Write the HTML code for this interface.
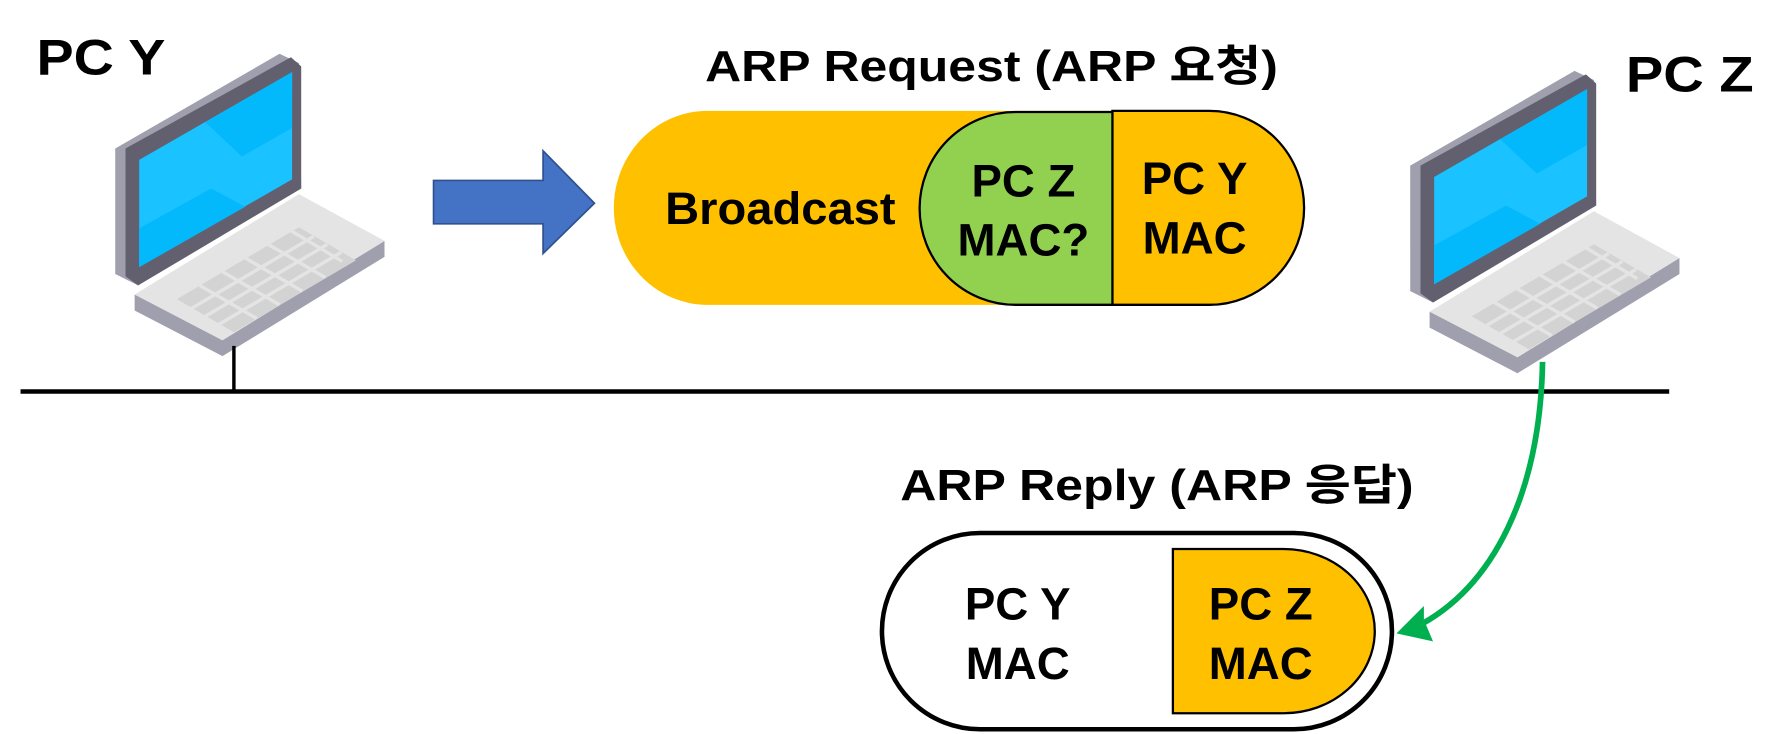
<!DOCTYPE html>
<html><head><meta charset="utf-8"><style>
html,body{margin:0;padding:0;background:#fff;}
svg{display:block;}
text{font-family:"Liberation Sans","Noto Sans CJK KR",sans-serif;font-weight:bold;fill:#000;}
</style></head><body>
<svg width="1789" height="734" viewBox="0 0 1568 643" xmlns="http://www.w3.org/2000/svg">
<defs>
<g id="laptop">
  <polygon points="101,130 245,47 262,55 264,165 121,250 101,240" fill="#a09fae"/>
  <polygon points="110,130 255,50 264,58 264,165 121,250 110,242" fill="#62606f"/>
  <polygon points="122,140 256,63 256,157 122,234" fill="#1ac3ff"/>
  <polygon points="122,200 185,165 215,181 122,234" fill="#03b8fb"/>
  <polygon points="180,107 256,63 256,112 212,137" fill="#03b8fb"/>
  <polygon points="118,258 118,272 195,312 337,225 337,211 195,298" fill="#a09fae"/>
  <polygon points="118,258 262,170 337,211 195,298" fill="#e4e4e4"/>
  <polygon points="155,262 262,199 312,228 205,291" fill="#d3d3d3"/>
  <g stroke="#e4e4e4" stroke-width="3">
    <line x1="168" y1="270" x2="275" y2="207"/>
    <line x1="180" y1="277" x2="287" y2="214"/>
    <line x1="192" y1="284" x2="299" y2="221"/>
    <line x1="175" y1="250" x2="225" y2="279"/>
    <line x1="195" y1="238" x2="245" y2="267"/>
    <line x1="215" y1="226" x2="265" y2="255"/>
    <line x1="235" y1="214" x2="285" y2="243"/>
    <line x1="255" y1="202" x2="300" y2="229"/>
  </g>
</g>
</defs>

<text x="32" y="65" font-size="44" textLength="113" lengthAdjust="spacingAndGlyphs">PC Y</text>
<text x="1425" y="80" font-size="44" textLength="112" lengthAdjust="spacingAndGlyphs">PC Z</text>

<use href="#laptop"/>
<use href="#laptop" transform="translate(1135,15)"/>

<line x1="18" y1="343" x2="1463" y2="343" stroke="#000" stroke-width="4"/>
<line x1="205" y1="303" x2="205" y2="343" stroke="#000" stroke-width="3"/>

<polygon points="380,158 476,158 476,132 521,178 476,222 476,196 380,196" fill="#4472c4" stroke="#2f528f" stroke-width="1.5"/>

<text x="618" y="71" font-size="38" textLength="502" lengthAdjust="spacingAndGlyphs">ARP Request (ARP 요청)</text>

<path d="M620,97 L1060,97 A83,85 0 0 1 1060,267 L620,267 A82,85 0 0 1 620,97 Z" fill="#ffc000"/>
<path d="M975,97 L1060,97 A83,85 0 0 1 1060,267 L975,267 Z" fill="#ffc000" stroke="#000" stroke-width="2"/>
<path d="M975,98 L890,98 A84,84.5 0 0 0 890,267 L975,267 Z" fill="#92d050" stroke="#000" stroke-width="2"/>
<text x="583" y="196" font-size="40" textLength="202" lengthAdjust="spacingAndGlyphs">Broadcast</text>
<text x="897" y="172" font-size="40" text-anchor="middle">PC Z</text>
<text x="897" y="224" font-size="40" text-anchor="middle">MAC?</text>
<text x="1047" y="170" font-size="40" text-anchor="middle">PC Y</text>
<text x="1047" y="222" font-size="40" text-anchor="middle">MAC</text>

<text x="789" y="438" font-size="38" textLength="450" lengthAdjust="spacingAndGlyphs">ARP Reply (ARP 응답)</text>

<rect x="773" y="467" width="447" height="172" rx="86" ry="86" fill="#fff" stroke="#000" stroke-width="4"/>
<path d="M1028,481 L1125,481 A80,72 0 0 1 1125,625 L1028,625 Z" fill="#ffc000" stroke="#000" stroke-width="2"/>
<text x="892" y="543" font-size="40" text-anchor="middle">PC Y</text>
<text x="892" y="595" font-size="40" text-anchor="middle">MAC</text>
<text x="1105" y="543" font-size="40" text-anchor="middle">PC Z</text>
<text x="1105" y="595" font-size="40" text-anchor="middle">MAC</text>

<path d="M1352,317 C1350,430 1310,515 1240,550" fill="none" stroke="#00b050" stroke-width="5"/>
<polygon points="1224,555 1248,531 1248,543 1256,562" fill="#00b050"/>
</svg>
</body></html>
